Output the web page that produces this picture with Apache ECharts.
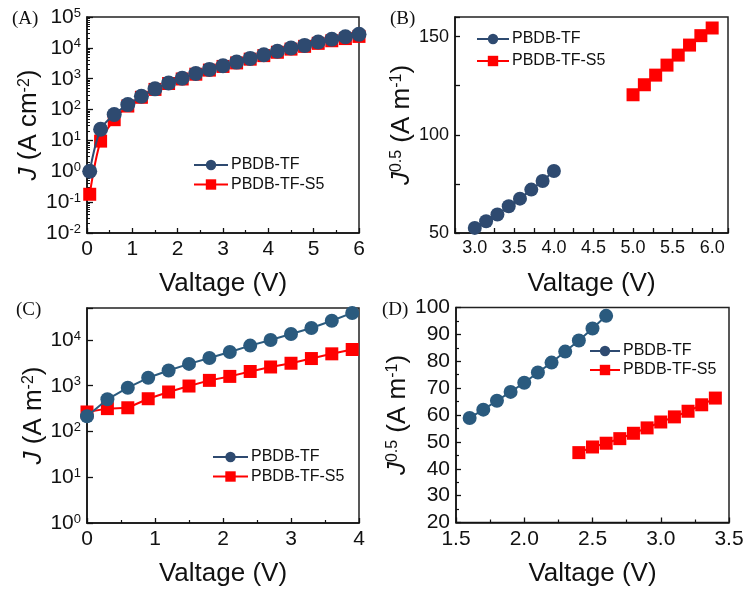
<!DOCTYPE html>
<html>
<head>
<meta charset="utf-8">
<script src="https://cdn.jsdelivr.net/npm/echarts@6/dist/echarts.min.js"></script>
<style>html,body{margin:0;padding:0;background:#fff}#c{width:746px;height:599px}</style>
</head>
<body>
<div id="c"></div>
<script>
// ---------- Data ----------
const seriesNames = ['PBDB-TF', 'PBDB-TF-S5'];
// Panel A: J (A cm^-2) vs voltage, log scale
const aX   = [0.06, 0.3, 0.6, 0.9, 1.2, 1.5, 1.8, 2.1, 2.4, 2.7, 3.0, 3.3, 3.6, 3.9, 4.2, 4.5, 4.8, 5.1, 5.4, 5.7, 6.0];
const aTF  = [1.0, 23, 69, 145, 270, 470, 730, 1030, 1480, 2000, 2630, 3450, 4560, 6000, 7750, 9900, 12000, 15500, 19000, 23000, 27500];
const aS5  = [0.18, 9.5, 47, 130, 250, 450, 700, 980, 1400, 1900, 2500, 3250, 4300, 5600, 7200, 9100, 11200, 14000, 17000, 20000, 23500];
// Panel B: J^0.5 (A m^-1) vs voltage
const bXTF = [3.0, 3.143, 3.286, 3.429, 3.571, 3.714, 3.857, 4.0];
const bTF  = [52.6, 56.0, 59.4, 63.6, 67.5, 72.1, 76.5, 81.6];
const bXS5 = [5.0, 5.143, 5.286, 5.429, 5.571, 5.714, 5.857, 6.0];
const bS5  = [120.4, 125.5, 130.4, 135.5, 140.6, 145.7, 150.5, 154.4];
// Panel C: J (A m^-2) vs voltage, log scale
const cX   = [0, 0.3, 0.6, 0.9, 1.2, 1.5, 1.8, 2.1, 2.4, 2.7, 3.0, 3.3, 3.6, 3.9];
const cTF  = [215, 505, 905, 1490, 2150, 3000, 4050, 5460, 7530, 10000, 13500, 18300, 26400, 39000];
const cS5  = [267, 316, 330, 520, 730, 985, 1310, 1600, 2050, 2570, 3100, 3930, 4980, 6200];
// Panel D: J^0.5 (A m^-1) vs voltage
const dXTF = [1.6, 1.7, 1.8, 1.9, 2.0, 2.1, 2.2, 2.3, 2.4, 2.5, 2.6];
const dTF  = [58.9, 62.0, 65.3, 68.6, 72.0, 75.8, 79.5, 83.6, 87.7, 92.2, 96.9];
const dXS5 = [2.4, 2.5, 2.6, 2.7, 2.8, 2.9, 3.0, 3.1, 3.2, 3.3, 3.4];
const dS5  = [46.0, 48.1, 49.5, 51.2, 53.2, 55.2, 57.4, 59.3, 61.4, 63.8, 66.3];
// Tick / label text
const xTitle = 'Valtage (V)';
const panelLabels = ['(A)', '(B)', '(C)', '(D)'];
const aMinorLog = [];
for (let e = -2; e < 5; e++) for (let m = 2; m <= 9; m++) aMinorLog.push(m * Math.pow(10, e));

// ---------- Styles ----------
const FONT = 'Liberation Sans, Arial, sans-serif';
const BLUE1 = '#2E4A70', BLUE2 = '#2A5A7E', RED = '#FF0000';
const pair = (xs, ys) => xs.map((x, i) => [x, ys[i]]);

function logFmt(v) {
  const e = Math.log10(v);
  const r = Math.round(e);
  if (Math.abs(e - r) > 1e-6) return '';
  return '{b|10}{s|' + r + '}';
}
function logRich(fs) {
  return { b: { fontSize: fs, fontFamily: FONT, color: '#111' },
           s: { fontSize: Math.round(fs * 0.62), fontFamily: FONT, color: '#111', verticalAlign: 'top', lineHeight: Math.round(fs * 0.62) } };
}
const nameRich = {
  i: { fontStyle: 'italic', fontSize: 26, fontFamily: FONT, color: '#111' },
  sup: { fontSize: 16, fontFamily: FONT, color: '#111', verticalAlign: 'top', lineHeight: 14 }
};
const axLine = { show: true, lineStyle: { color: '#111', width: 1.5 } };

function xAxisCfg(grid, min, max, interval, fs, fmt) {
  return {
    gridIndex: grid, type: 'value', min, max, interval,
    axisLine: axLine,
    axisTick: { inside: true, length: 5, lineStyle: { color: '#111', width: 1.3 } },
    minorTick: { show: true, splitNumber: 2, length: 3, lineStyle: { color: '#111', width: 1.2 } },
    splitLine: { show: false },
    axisLabel: { fontSize: fs, fontFamily: FONT, color: '#111', margin: 6, formatter: fmt,
                 showMinLabel: true, showMaxLabel: true, hideOverlap: false },
    name: xTitle, nameLocation: 'middle', nameGap: 38,
    nameTextStyle: { fontSize: 26, fontFamily: FONT, color: '#111' }
  };
}

const grids = [
  { left: 87, top: 17, width: 272, height: 216 },
  { left: 455, top: 17, width: 273, height: 216 },
  { left: 87, top: 308, width: 272, height: 215 },
  { left: 456, top: 307.5, width: 273, height: 215 }
].map(g => Object.assign(g, { show: true, borderColor: '#222', borderWidth: 1.5, backgroundColor: 'transparent', outerBoundsMode: 'none' }));

const xAxes = [
  xAxisCfg(0, 0, 6, 1, 21, v => String(v)),
  Object.assign(xAxisCfg(1, 2.75, 6.2, 0.25, 18, v => {
    const k = Math.round(v * 100);
    return (k % 50 === 0 && v >= 3 && v <= 6) ? v.toFixed(1) : '';
  }), { minorTick: { show: false } }),
  xAxisCfg(2, 0, 4, 1, 21, v => String(v)),
  xAxisCfg(3, 1.5, 3.5, 0.5, 21, v => v.toFixed(1))
];

const yAxes = [
  { gridIndex: 0, type: 'log', logBase: 10, min: 0.01, max: 100000,
    axisLine: axLine,
    axisTick: { inside: true, length: 6, lineStyle: { color: '#111', width: 1.3 } },
    splitLine: { show: false },
    axisLabel: { formatter: logFmt, rich: logRich(21), margin: 6 },
    name: '{i|J} (A cm{sup|-2})', nameLocation: 'middle', nameGap: 36,
    nameTextStyle: { fontSize: 26, fontFamily: FONT, color: '#111', rich: nameRich } },
  { gridIndex: 1, type: 'value', min: 50, max: 160, interval: 25,
    axisLine: axLine,
    axisTick: { inside: true, length: 5, lineStyle: { color: '#111', width: 1.3 } },
    splitLine: { show: false },
    axisLabel: { fontSize: 18, fontFamily: FONT, color: '#111', margin: 6,
                 formatter: v => (v % 50 === 0 ? String(v) : '') },
    name: '{i|J}{sup|0.5} (A m{sup|-1})', nameLocation: 'middle', nameGap: 38,
    nameTextStyle: { fontSize: 26, fontFamily: FONT, color: '#111', rich: nameRich } },
  { gridIndex: 2, type: 'log', logBase: 10, min: 1, max: 50000,
    axisLine: axLine,
    axisTick: { inside: true, length: 6, lineStyle: { color: '#111', width: 1.3 } },
    splitLine: { show: false },
    axisLabel: { formatter: logFmt, rich: logRich(21), margin: 6 },
    name: '{i|J} (A m{sup|-2})', nameLocation: 'middle', nameGap: 37,
    nameTextStyle: { fontSize: 26, fontFamily: FONT, color: '#111', rich: nameRich } },
  { gridIndex: 3, type: 'value', min: 20, max: 100, interval: 10,
    axisLine: axLine,
    axisTick: { inside: true, length: 5, lineStyle: { color: '#111', width: 1.3 } },
    minorTick: { show: true, splitNumber: 2, length: 3, lineStyle: { color: '#111', width: 1.2 } },
    splitLine: { show: false },
    axisLabel: { fontSize: 21, fontFamily: FONT, color: '#111', margin: 6 },
    name: '{i|J}{sup|0.5} (A m{sup|-1})', nameLocation: 'middle', nameGap: 39,
    nameTextStyle: { fontSize: 26, fontFamily: FONT, color: '#111', rich: nameRich } },
  // minor log ticks for panel A
  { gridIndex: 0, type: 'log', logBase: 10, min: 0.01, max: 100000, position: 'left',
    axisLine: { show: false }, splitLine: { show: false }, axisLabel: { show: false },
    axisTick: { show: true, inside: true, length: 3, customValues: aMinorLog, lineStyle: { color: '#111', width: 1 } } }
];

function ser(name, xi, yi, data, color, symbol, size, extra) {
  return Object.assign({
    name, type: 'line', xAxisIndex: xi, yAxisIndex: yi, data,
    symbol, symbolSize: size, showSymbol: true,
    itemStyle: { color, opacity: 1 },
    lineStyle: { color, width: 2 },
    emphasis: { disabled: true }, animation: false
  }, extra || {});
}

const series = [
  ser(seriesNames[0], 0, 0, pair(aX, aTF), BLUE1, 'circle', 15, { smooth: 0.3, z: 4 }),
  ser(seriesNames[1], 0, 0, pair(aX, aS5), RED, 'rect', 13, { smooth: 0.3, z: 3 }),
  ser(seriesNames[0], 1, 1, pair(bXTF, bTF), BLUE1, 'circle', 14),
  ser(seriesNames[1], 1, 1, pair(bXS5, bS5), RED, 'rect', 13),
  ser(seriesNames[0], 2, 2, pair(cX, cTF), BLUE2, 'circle', 14, { z: 4 }),
  ser(seriesNames[1], 2, 2, pair(cX, cS5), RED, 'rect', 13, { z: 3 }),
  ser(seriesNames[0], 3, 3, pair(dXTF, dTF), BLUE2, 'circle', 14),
  ser(seriesNames[1], 3, 3, pair(dXS5, dS5), RED, 'rect', 13)
];

function legendCfg(left, top, fs, gap, w) {
  return {
    data: seriesNames, orient: 'vertical', left, top, itemGap: gap, padding: 0,
    itemWidth: w, itemHeight: 13, selectedMode: false,
    textStyle: { fontSize: fs, fontFamily: FONT, color: '#111', padding: [0, 0, 0, -2] }
  };
}

const option = {
  backgroundColor: '#fff',
  animation: false,
  title: [
    { text: panelLabels[0], left: 12, top: 10 },
    { text: panelLabels[1], left: 390, top: 10 },
    { text: panelLabels[2], left: 16, top: 301 },
    { text: panelLabels[3], left: 382, top: 301 }
  ].map(t => Object.assign(t, { padding: 0, textStyle: { fontFamily: 'Liberation Serif, Times New Roman, serif', fontSize: 19, fontWeight: 'normal', color: '#111' } })),
  grid: grids,
  xAxis: xAxes,
  yAxis: yAxes,
  legend: [
    legendCfg(193, 157, 16, 3.5, 34),
    legendCfg(476, 31, 16, 6, 32),
    legendCfg(212, 449, 16, 3.5, 35),
    legendCfg(589, 343, 16, 3, 30)
  ],
  series
};

const chart = echarts.init(document.getElementById('c'), null, { renderer: 'canvas' });
chart.setOption(option);
</script>
</body>
</html>
